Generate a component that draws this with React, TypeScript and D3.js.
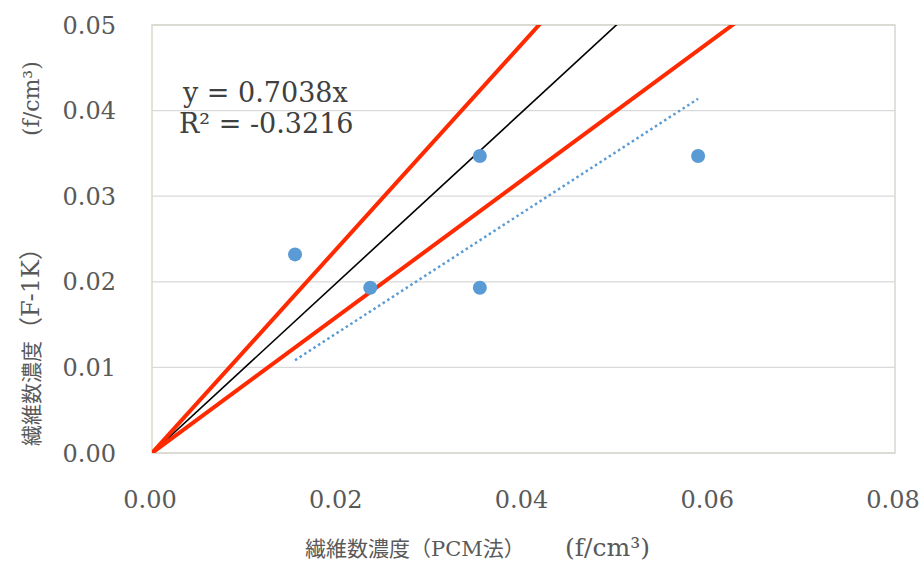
import React, { useEffect, useRef } from 'react';
import * as d3 from 'd3';

const pcmValues = [0.0154, 0.0235, 0.0353, 0.0353, 0.0588];
const f1kValues = [0.0232, 0.0193, 0.0347, 0.0193, 0.0347];
const xTicks = [0, 0.02, 0.04, 0.06, 0.08];
const yTicks = [0, 0.01, 0.02, 0.03, 0.04, 0.05];
const refSlopes = [1.2, 0.8];
const trendSlope = 0.7038;
const trendLabel = 'y = 0.7038x';
const r2Label = 'R² = -0.3216';

const FONT = '"DejaVu Serif", "Liberation Serif", "Noto Sans CJK JP", serif';

const App: React.FC = () => {
  const svgRef = useRef<SVGSVGElement>(null);
  const width = 922;
  const height = 564;

  useEffect(() => {
    const svg = d3.select(svgRef.current);
    svg.selectAll('*').remove();

    const margin = { top: 25, right: 27, bottom: 111, left: 152 };
    const innerWidth = width - margin.left - margin.right;
    const innerHeight = height - margin.top - margin.bottom;

    const g = svg.append('g')
      .attr('transform', `translate(${margin.left},${margin.top})`);

    const x = d3.scaleLinear().domain([0, 0.08]).range([0, innerWidth]);
    const y = d3.scaleLinear().domain([0, 0.05]).range([innerHeight, 0]);

    g.append('clipPath').attr('id', 'plot-clip')
      .append('rect').attr('width', innerWidth).attr('height', innerHeight);

    // grid
    g.selectAll('.grid')
      .data(yTicks)
      .enter()
      .append('line')
      .attr('x1', 0)
      .attr('x2', innerWidth)
      .attr('y1', d => y(d))
      .attr('y2', d => y(d))
      .attr('stroke', '#d9d9d9')
      .attr('stroke-width', 1.3);

    g.append('rect')
      .attr('width', innerWidth)
      .attr('height', innerHeight)
      .attr('fill', 'none')
      .attr('stroke', '#d9d9d0')
      .attr('stroke-width', 1.5);

    // tick labels
    g.selectAll('.ytick')
      .data(yTicks)
      .enter()
      .append('text')
      .attr('x', -36)
      .attr('y', d => y(d))
      .attr('dy', '0.36em')
      .attr('text-anchor', 'end')
      .style('font-family', FONT)
      .style('font-size', '24px')
      .style('fill', '#595959')
      .text(d => d.toFixed(2));

    g.selectAll('.xtick')
      .data(xTicks)
      .enter()
      .append('text')
      .attr('x', d => x(d) - 2)
      .attr('y', innerHeight + 55)
      .attr('text-anchor', 'middle')
      .style('font-family', FONT)
      .style('font-size', '24px')
      .style('fill', '#595959')
      .text(d => d.toFixed(2));

    const lines = g.append('g').attr('clip-path', 'url(#plot-clip)');

    // y = x reference
    lines.append('line')
      .attr('x1', x(0)).attr('y1', y(0))
      .attr('x2', x(0.08)).attr('y2', y(0.08))
      .attr('stroke', '#000')
      .attr('stroke-width', 1.6);

    refSlopes.forEach(s => {
      lines.append('line')
        .attr('x1', x(0)).attr('y1', y(0))
        .attr('x2', x(0.08)).attr('y2', y(0.08 * s))
        .attr('stroke', '#ff2a00')
        .attr('stroke-width', 4);
    });

    // trendline over data range
    const xMin = d3.min(pcmValues) || 0;
    const xMax = d3.max(pcmValues) || 0;
    lines.append('line')
      .attr('x1', x(xMin)).attr('y1', y(xMin * trendSlope))
      .attr('x2', x(xMax)).attr('y2', y(xMax * trendSlope))
      .attr('stroke', '#5b9bd5')
      .attr('stroke-width', 2.5)
      .attr('stroke-dasharray', '2.5 3');

    // points
    g.selectAll('.pt')
      .data(pcmValues.map((v, i) => [v, f1kValues[i]]))
      .enter()
      .append('circle')
      .attr('cx', d => x(d[0]))
      .attr('cy', d => y(d[1]))
      .attr('r', 7)
      .attr('fill', '#5b9bd5');

    // equation
    g.append('text')
      .attr('x', 31)
      .attr('y', 77)
      .style('font-family', FONT)
      .style('font-size', '27px')
      .style('fill', '#404040')
      .text(trendLabel);
    g.append('text')
      .attr('x', 27)
      .attr('y', 108)
      .style('font-family', FONT)
      .style('font-size', '27px')
      .style('fill', '#404040')
      .text(r2Label);

    // axis titles
    svg.append('text')
      .attr('x', 305)
      .attr('y', 556)
      .style('font-family', FONT)
      .style('font-size', '21px')
      .style('fill', '#595959')
      .text('繊維数濃度（PCM法）');
    svg.append('text')
      .attr('x', 565)
      .attr('y', 556)
      .style('font-family', FONT)
      .style('font-size', '25px')
      .style('fill', '#595959')
      .text('(f/cm³)');

    const yTitle = svg.append('text')
      .attr('transform', 'translate(39, 446) rotate(-90)')
      .style('font-family', FONT)
      .style('font-size', '21px')
      .style('fill', '#595959');
    yTitle.append('tspan').text('繊維数濃度');
    yTitle.append('tspan').style('font-size', '24px').text('（F-1K）');
    svg.append('text')
      .attr('transform', 'translate(39, 136) rotate(-90)')
      .style('font-family', FONT)
      .style('font-size', '22px')
      .style('fill', '#595959')
      .text('(f/cm³)');
  }, []);

  return (
    <div style={{ position: 'absolute', left: 0, top: 0 }}>
      <svg ref={svgRef} width={width} height={height} style={{ display: 'block', background: '#fff' }} />
    </div>
  );
};

export default App;
